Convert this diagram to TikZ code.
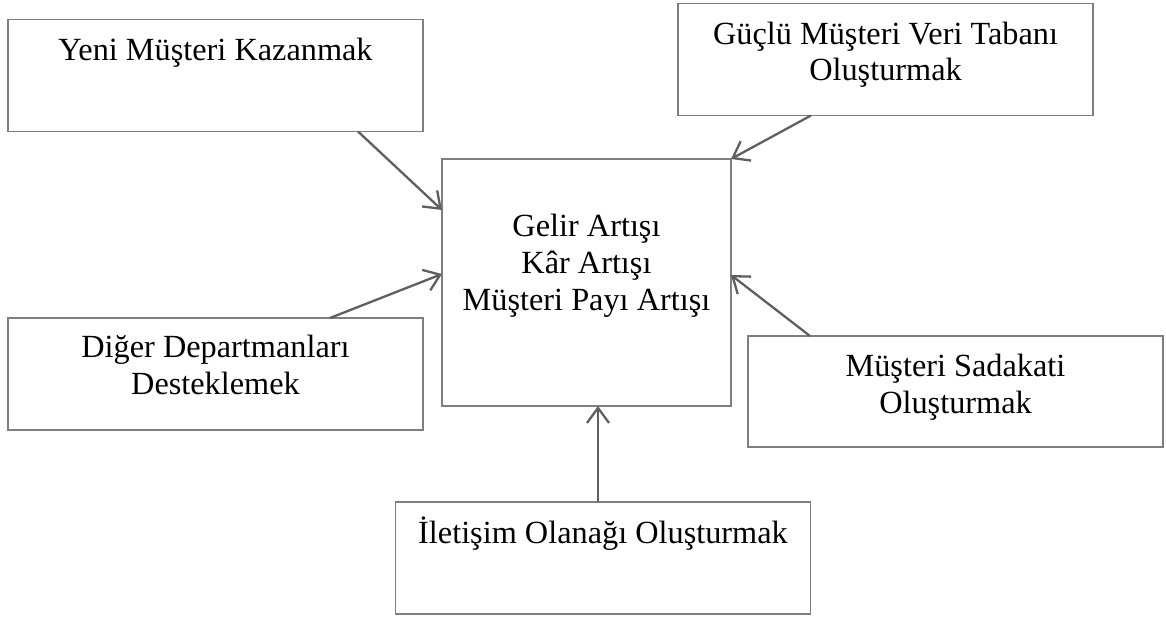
\documentclass[tikz,border=0pt]{standalone}
\usepackage{fontspec}
\setmainfont{Liberation Serif}
\usetikzlibrary{arrows.meta}
\definecolor{boxline}{HTML}{7F7F7F}
\definecolor{arrowline}{HTML}{5F5F5F}
\tikzset{
  goalbox/.style={draw=boxline, line width=1.4pt, inner sep=0pt, outer sep=0pt,
    minimum width=415pt, minimum height=112pt},
  caption/.style={font=\fontsize{32.3}{36.6}\selectfont, inner sep=0pt, anchor=base, align=center},
  feed/.style={draw=arrowline, line width=2.3pt,
    -{Straight Barb[length=15pt, width=22pt, line width=2.3pt]}},
}
\begin{document}
\begin{tikzpicture}[x=1pt, y=-1pt]
  \useasboundingbox (0,0) rectangle (1166,617);

  % outer boxes
  \node[goalbox] (yeni) at (215.5,75.5) {};
  \node[goalbox] (veri) at (885.5,59.5) {};
  \node[goalbox] (diger) at (215.5,374) {};
  \node[goalbox, minimum height=111pt] (sadakat) at (955.5,391.5) {};
  \node[goalbox] (iletisim) at (603,558) {};

  % central box
  \node[goalbox, minimum width=289pt, minimum height=247pt] (hedef) at (586.5,282.5) {};

  % captions (base anchor sits on the last line's baseline)
  \node[caption] (t1) at (215.5,61) {Yeni Müşteri Kazanmak};
  \node[caption] (t2) at (885.5,81) {Güçlü Müşteri Veri Tabanı\\Oluşturmak};
  \node[caption] (t3) at (586.5,310) {Gelir Artışı\\Kâr Artışı\\Müşteri Payı Artışı};
  \node[caption] (t4) at (215.5,394) {Diğer Departmanları\\Desteklemek};
  \node[caption] (t5) at (955.5,413) {Müşteri Sadakati\\Oluşturmak};
  \node[caption] (t6) at (603,543) {İletişim Olanağı Oluşturmak};

  % connectors, from each outer box into the central box
  \draw[feed] ([xshift=350pt]yeni.south west) -- ([yshift=-51pt]hedef.north west);
  \draw[feed] ([xshift=133pt]veri.south west) -- (hedef.north east);
  \draw[feed] ([xshift=322pt]diger.north west) -- ([yshift=-115pt]hedef.north west);
  \draw[feed] ([xshift=62pt]sadakat.north west) -- ([yshift=-116pt]hedef.north east);
  \draw[feed] ([xshift=-5pt]iletisim.north) -- ([xshift=11.5pt]hedef.south);
\end{tikzpicture}
\end{document}
